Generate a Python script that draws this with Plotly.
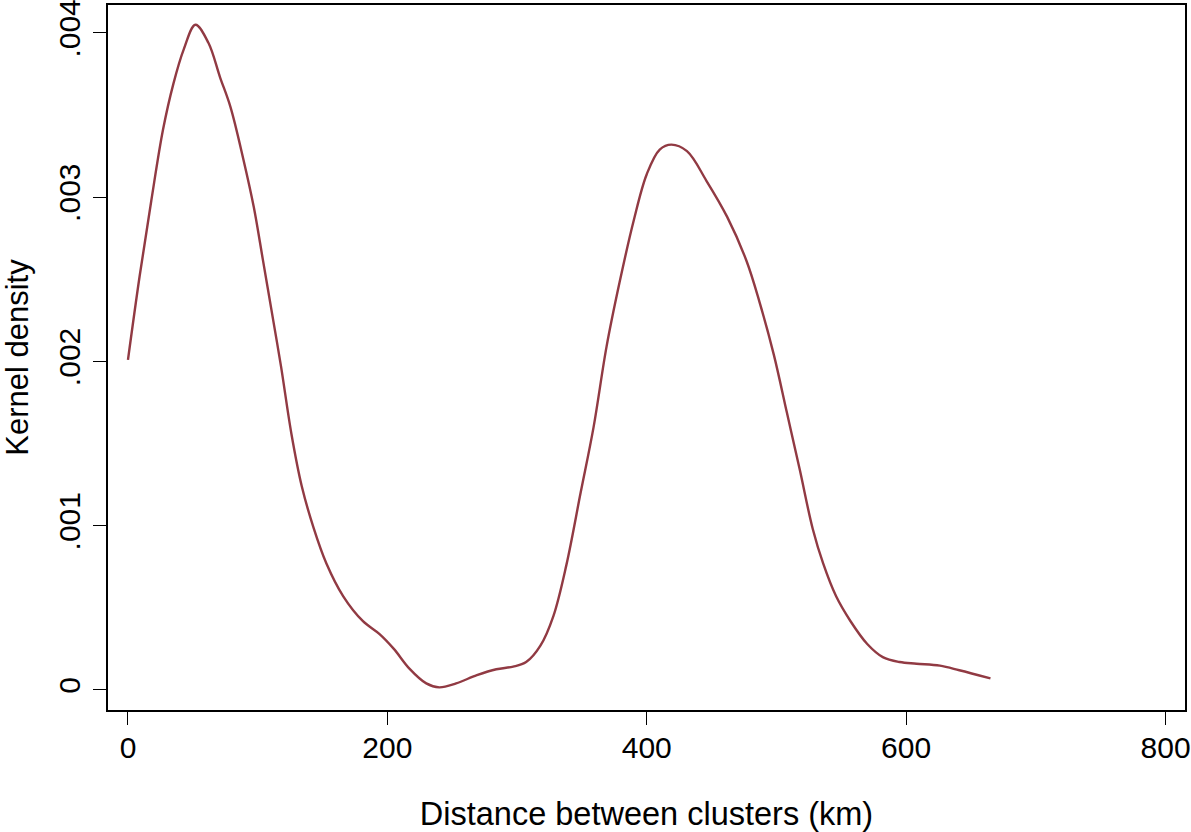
import plotly.graph_objects as go

# Distance between clusters (km) and kernel density values
distance_km = [0, 9, 18, 27, 35, 43, 52, 62, 71, 79, 89, 97, 104, 112, 118, 126,
               134, 143, 153, 166, 181, 194, 205, 217, 230, 240, 253, 269, 284, 297,
               307, 318, 328, 338, 349, 359, 369, 379, 390, 400, 410, 419, 431, 446,
               462, 477, 487, 498, 508, 518, 528, 536, 546, 557, 570, 582, 595, 608,
               626, 641, 665]
density = [0.00201, 0.00252, 0.00298, 0.00341, 0.00369, 0.00390, 0.00405, 0.00394,
           0.00373, 0.00355, 0.00323, 0.00294, 0.00262, 0.00225, 0.00197, 0.00156,
           0.00124, 0.00099, 0.00077, 0.00057, 0.00042, 0.00034, 0.00025, 0.00013,
           0.00004, 0.000016, 0.00004, 0.00009, 0.000126, 0.000142, 0.00017, 0.00027,
           0.00045, 0.00076, 0.00120, 0.00160, 0.00209, 0.00248, 0.00286, 0.00314,
           0.00329, 0.00332, 0.00328, 0.00310, 0.00288, 0.00261, 0.00236, 0.00204,
           0.00169, 0.00134, 0.00098, 0.00077, 0.00057, 0.00042, 0.00028, 0.00020,
           0.00017, 0.00016, 0.000148, 0.00012, 0.00007]

x_ticks = [0, 200, 400, 600, 800]
x_tick_labels = ["0", "200", "400", "600", "800"]
y_ticks = [0, 0.001, 0.002, 0.003, 0.004]
y_tick_labels = ["0", ".001", ".002", ".003", ".004"]

FONT = "Liberation Sans, Arial, sans-serif"

fig = go.Figure()
fig.add_trace(go.Scatter(
    x=distance_km, y=density, mode="lines",
    line=dict(color="#913a43", width=2.4, shape="spline", smoothing=1.0),
    showlegend=False, hoverinfo="skip",
))

axis_common = dict(
    showgrid=False, zeroline=False, automargin=False,
    showline=True, linecolor="black", linewidth=1.6, mirror=True,
    ticks="outside", ticklen=13, tickwidth=1.3, tickcolor="black",
    tickfont=dict(family=FONT, size=30, color="black"),
    ticklabeloverflow="allow",
)

fig.update_layout(
    width=1191, height=832,
    margin=dict(l=108, r=6, t=5, b=122),
    paper_bgcolor="white", plot_bgcolor="white",
    xaxis=dict(
        range=[-15.4, 815], tickmode="array", tickvals=x_ticks, ticktext=x_tick_labels,
        title=dict(text="Distance between clusters (km)",
                   font=dict(family=FONT, size=32.5, color="black"), standoff=39),
        ticklabelstandoff=-3,
        **axis_common,
    ),
    yaxis=dict(
        range=[-0.000122, 0.00417], tickmode="array", tickvals=y_ticks, ticktext=y_tick_labels,
        tickangle=-90,
        title=dict(text="Kernel density",
                   font=dict(family=FONT, size=31, color="black"), standoff=19),
        ticklabelstandoff=1,
        **axis_common,
    ),
)

fig.write_html(
    "out.html",
    config={"displayModeBar": False},
    post_script="document.body.style.margin='0';document.body.style.overflow='hidden';",
)
